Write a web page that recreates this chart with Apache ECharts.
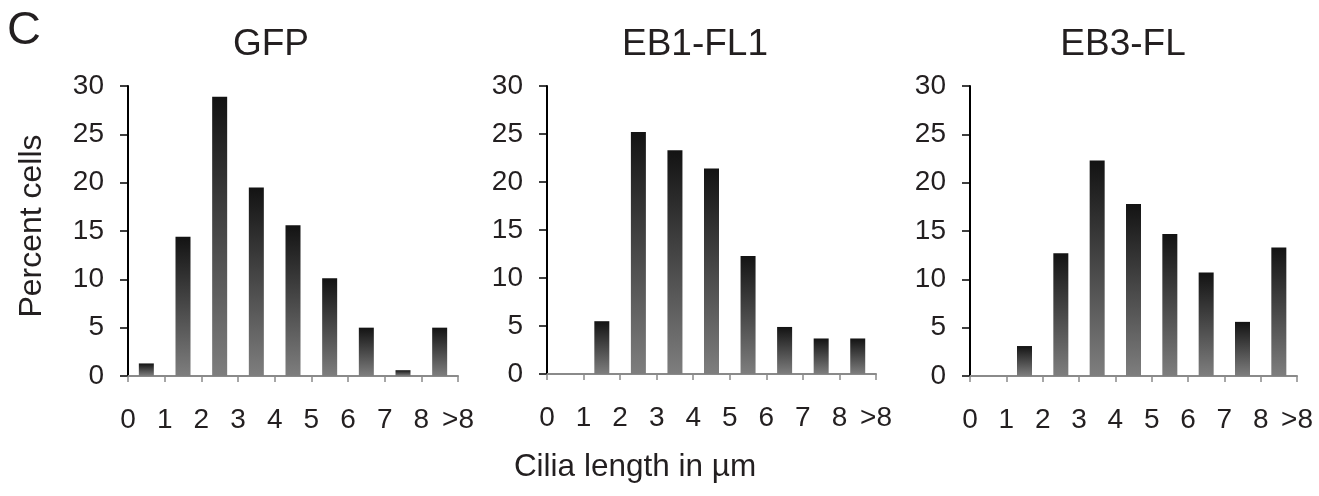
<!DOCTYPE html>
<html><head><meta charset="utf-8">
<script src="https://cdn.jsdelivr.net/npm/echarts@6/dist/echarts.min.js"></script>
<style>html,body{margin:0;padding:0;background:#fff}#c{width:1319px;height:496px}</style>
</head><body><div id="c"></div>
<script>
// ---- data ----
const tickLabels = ['0', '1', '2', '3', '4', '5', '6', '7', '8', '>8'];
const panelTitles = ['GFP', 'EB1-FL1', 'EB3-FL'];
const gfpValues = [1.3, 14.4, 28.9, 19.5, 15.6, 10.1, 5.0, 0.6, 5.0];
const eb1Values = [0, 5.5, 25.2, 23.3, 21.4, 12.3, 4.9, 3.7, 3.7];
const eb3Values = [0, 3.1, 12.7, 22.3, 17.8, 14.7, 10.7, 5.6, 13.3];
const yAxisName = 'Percent cells';
const xAxisName = 'Cilia length in µm';
const panelLetter = 'C';

const seriesValues = [gfpValues, eb1Values, eb3Values];
const FONT = '"Liberation Sans", Arial, Helvetica, sans-serif';
const TXT = '#231f20';

const grids = [
  { left: 128, top: 86, width: 330, height: 290 },
  { left: 547, top: 86, width: 329, height: 288 },
  { left: 970, top: 86, width: 327, height: 290 }
];
const titleCenters = [271, 695, 1123];

const barColor = {
  type: 'linear', x: 0, y: 0, x2: 0, y2: 1,
  colorStops: [{ offset: 0, color: '#131313' }, { offset: 1, color: '#7e7e7e' }]
};

const option = {
  animation: false,
  backgroundColor: '#fff',
  grid: grids,
  xAxis: grids.map((g, i) => ({
    type: 'value', gridIndex: i, min: 0, max: 9, interval: 1,
    axisLine: { show: true, onZero: false, lineStyle: { color: '#8a8a8a', width: 2 } },
    axisTick: { show: true, length: 6, lineStyle: { color: '#8a8a8a', width: 1.5 } },
    splitLine: { show: false },
    axisLabel: {
      margin: 30, fontSize: 28, fontFamily: FONT, color: TXT,
      formatter: v => tickLabels[Math.round(v)] || ''
    }
  })),
  yAxis: grids.map((g, i) => ({
    type: 'value', gridIndex: i, min: 0, max: 30, interval: 5,
    axisLine: { show: true, lineStyle: { color: '#000', width: 2 } },
    axisTick: { show: true, length: 8, lineStyle: { color: '#000', width: 1.5 } },
    splitLine: { show: false },
    axisLabel: { margin: 24, fontSize: 28, fontFamily: FONT, color: TXT }
  })),
  series: seriesValues.map((vals, i) => ({
    type: 'bar', xAxisIndex: i, yAxisIndex: i, barWidth: 15,
    itemStyle: { color: barColor },
    data: vals.map((v, k) => [k + 0.5, v])
  })),
  graphic: [
    { type: 'text', x: 7, y: 8, style: { text: panelLetter, fontSize: 47, fontFamily: FONT, fill: TXT, align: 'left', verticalAlign: 'top' } },
    ...panelTitles.map((t, i) => ({
      type: 'text', x: titleCenters[i], y: 26,
      style: { text: t, fontSize: 37, fontFamily: FONT, fill: TXT, align: 'center', verticalAlign: 'top' }
    })),
    { type: 'text', x: 32, y: 226, rotation: Math.PI / 2,
      style: { text: yAxisName, fontSize: 32, fontFamily: FONT, fill: TXT, align: 'center', verticalAlign: 'middle' } },
    { type: 'text', x: 635, y: 451,
      style: { text: xAxisName, fontSize: 31.5, fontFamily: FONT, fill: TXT, align: 'center', verticalAlign: 'top' } }
  ]
};

const chart = echarts.init(document.getElementById('c'), null, { renderer: 'canvas' });
chart.setOption(option);
</script>
</body></html>
